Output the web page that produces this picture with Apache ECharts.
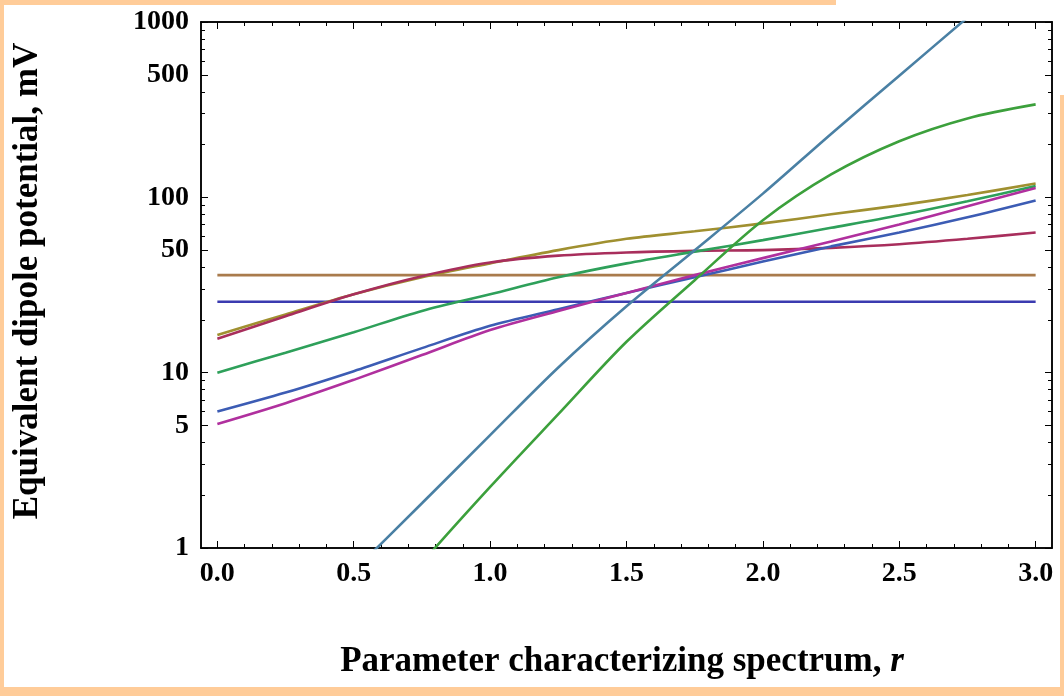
<!DOCTYPE html>
<html><head><meta charset="utf-8">
<script src="https://cdn.jsdelivr.net/npm/echarts@6/dist/echarts.min.js"></script>
<style>html,body{margin:0;padding:0;background:#fff}#c{width:1064px;height:696px}</style>
</head><body><div id="c"></div>
<script>
const rValues = [0,0.25,0.5,0.75,1.0,1.25,1.5,1.75,2.0,2.25,2.5,2.75,3.0];
const blueFlat   = [25.4,25.4,25.4,25.4,25.4,25.4,25.4,25.4,25.4,25.4,25.4,25.4,25.4];
const brownFlat  = [36,36,36,36,36,36,36,36,36,36,36,36,36];
const goldCurve  = [16.4,21.5,28,35,42,50,58,64,71,80,90,103,120];
const crimsonCurve = [15.6,21,28,35.5,42.5,46.5,48.5,49.5,50,51.5,54,58,63];
const greenCurve = [10,13,17,22.5,28,35,42,49,57,67,79,95,116];
const blueCurve  = [6.0,7.7,10.2,13.8,18.5,23,28.5,35,43,52.5,63,77,96];
const pinkCurve  = [5.1,6.7,9.1,12.6,17.5,22.5,28.5,36,45,56,70,89,113];
const steelLine  = [0.124,0.30,0.74,1.8,4.4,10.7,23.9,49.9,105,230,494,1060,2265];
const greenSteep = [0.02,0.08,0.27,0.82,2.23,5.8,15,33.7,74,135,209,282,339];

const xMajor = [0,0.5,1.0,1.5,2.0,2.5,3.0];
const xMinor = [0.1,0.2,0.3,0.4,0.6,0.7,0.8,0.9,1.1,1.2,1.3,1.4,1.6,1.7,1.8,1.9,2.1,2.2,2.3,2.4,2.6,2.7,2.8,2.9];
const yMajor = [1,5,10,50,100,500,1000];
const yMinor = [2,3,4,6,7,8,9,20,30,40,60,70,80,90,200,300,400,600,700,800,900];

const seriesDefs = [
  ['blueFlat', blueFlat, '#3b3bb0'],
  ['brownFlat', brownFlat, '#a97b4c'],
  ['goldCurve', goldCurve, '#a09030'],
  ['crimsonCurve', crimsonCurve, '#a82e5c'],
  ['greenCurve', greenCurve, '#2ea05a'],
  ['blueCurve', blueCurve, '#3c5cb4'],
  ['pinkCurve', pinkCurve, '#b0309e'],
  ['steelLine', steelLine, '#4a80a4'],
  ['greenSteep', greenSteep, '#3ca03c']
];

const font = '"Liberation Serif","Times New Roman",serif';
function xAx(pos, major, show){
  return {type:'value', min:-0.06, max:3.06, position:pos,
    axisLine:{show:true, onZero:false, lineStyle:{color:'#000', width:1.5}},
    splitLine:{show:false},
    axisTick:{show:true, inside:true, length: major?7:4, customValues: major?xMajor:xMinor, lineStyle:{color:'#000',width:1}},
    axisLabel:{show:show, customValues:xMajor, margin:12, color:'#000', fontFamily:font, fontWeight:'bold', fontSize:28,
      formatter:v=>v.toFixed(1)}};
}
function yAx(pos, major, show){
  return {type:'log', logBase:10, min:1, max:1000, position:pos,
    axisLine:{show:true, onZero:false, lineStyle:{color:'#000', width:1.5}},
    splitLine:{show:false}, minorTick:{show:false},
    axisTick:{show:true, inside:true, length: major?7:4, customValues: major?yMajor:yMinor, lineStyle:{color:'#000',width:1}},
    axisLabel:{show:show, customValues:yMajor, margin:12, color:'#000', fontFamily:font, fontWeight:'bold', fontSize:28,
      formatter:v=>String(v)}};
}
const chart = echarts.init(document.getElementById('c'));
chart.setOption({
  animation:false,
  backgroundColor:'#ffffff',
  grid:{left:201, right:12, top:22, bottom:148, containLabel:false},
  xAxis:[xAx('bottom',true,true), xAx('bottom',false,false), xAx('top',true,false), xAx('top',false,false)],
  yAxis:[yAx('left',true,true), yAx('left',false,false), yAx('right',true,false), yAx('right',false,false)],
  graphic:[
    {type:'rect', shape:{x:0,y:0,width:836,height:5}, style:{fill:'#ffcc99'}},
    {type:'rect', shape:{x:0,y:0,width:4,height:696}, style:{fill:'#ffcc99'}},
    {type:'rect', shape:{x:0,y:687,width:1064,height:9}, style:{fill:'#ffcc99'}},
    {type:'rect', shape:{x:1060,y:95,width:4,height:601}, style:{fill:'#ffcc99'}},
    {type:'text', x:622, y:662, style:{text:'{a|Parameter characterizing spectrum, }{b|r}', align:'center', verticalAlign:'middle',
      rich:{a:{font:'bold 35px '+font, fill:'#000'}, b:{font:'italic bold 35px '+font, fill:'#000'}}}},
    {type:'text', x:28, y:281, rotation:Math.PI/2, style:{text:'Equivalent dipole potential, mV', font:'bold 35px '+font, fill:'#000', align:'center', verticalAlign:'middle'}}
  ],
  series: seriesDefs.map(d=>({
    name:d[0], type:'line', xAxisIndex:0, yAxisIndex:0, showSymbol:false, smooth:0.3, clip:true,
    lineStyle:{color:d[2], width:2.6}, data: rValues.map((r,i)=>[r,d[1][i]])
  }))
});
</script></body></html>
